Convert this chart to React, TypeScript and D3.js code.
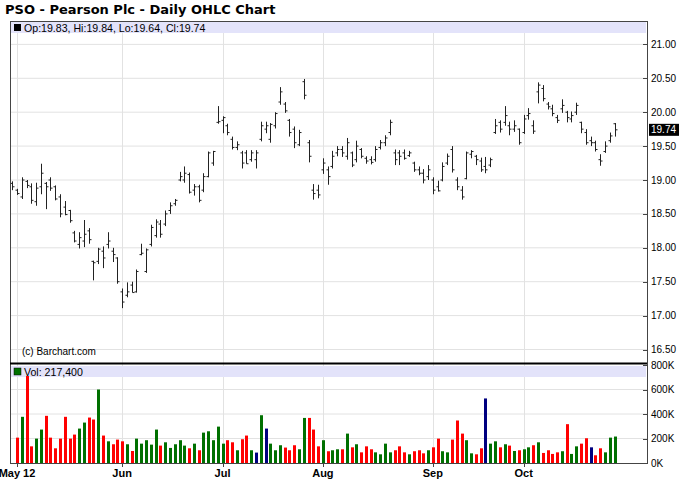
import React from 'react'
import * as d3 from 'd3'

// daily bars, Apr 30 2012 .. Oct 26 2012 (index = trading day)
const opens = [
  18.95, 18.85, 18.75, 18.98, 18.9, 18.68, 18.9, 18.95, 19.0, 18.9,
  18.75, 18.6, 18.55, 18.22, 18.05, 18.1, 18.25, 17.8, 17.8, 17.95,
  18.05, 17.95, 17.85, 17.35, 17.3, 17.45, 17.35, 17.9, 17.65, 18.05,
  18.18, 18.35, 18.35, 18.55, 18.65, 19.0, 19.0, 19.08, 18.85, 18.9,
  18.85, 19.05, 19.25, 19.85, 19.88, 19.8, 19.6, 19.48, 19.4, 19.4,
  19.3, 19.3, 19.6, 19.75, 19.6, 19.8, 20.15, 20.12, 19.88, 19.75,
  19.52, 20.45, 19.55, 18.85, 18.85, 19.15, 19.15, 19.2, 19.4, 19.45,
  19.35, 19.4, 19.3, 19.45, 19.32, 19.3, 19.3, 19.48, 19.55, 19.7,
  19.4, 19.4, 19.4, 19.36, 19.25, 19.15, 19.1, 19.05, 19.0, 18.9,
  19.0, 19.25, 19.45, 19.0, 18.85, 19.02, 19.38, 19.35, 19.28, 19.2,
  19.22, 19.7, 19.85, 19.85, 19.8, 19.75, 19.75, 19.7, 19.95, 19.8,
  20.3, 20.35, 20.12, 20.05, 19.92, 20.05, 20.0, 19.9, 20.0, 19.85,
  19.7, 19.58, 19.55, 19.3, 19.42, 19.58, 19.83,
]
const highs = [
  18.98, 18.87, 19.04, 19.0, 18.95, 18.96, 19.24, 18.97, 19.04, 18.92,
  18.79, 18.69, 18.56, 18.25, 18.23, 18.41, 18.29, 17.81, 18.0, 18.02,
  18.23, 18.0, 17.86, 17.4, 17.49, 17.5, 17.68, 18.06, 17.99, 18.34,
  18.42, 18.41, 18.55, 18.67, 18.72, 19.12, 19.2, 19.11, 18.94, 18.93,
  19.1, 19.42, 19.43, 20.09, 19.94, 19.83, 19.64, 19.57, 19.43, 19.44,
  19.44, 19.44, 19.86, 19.86, 19.84, 20.0, 20.37, 20.15, 19.9, 19.79,
  19.74, 20.49, 19.59, 18.94, 18.93, 19.32, 19.2, 19.43, 19.5, 19.5,
  19.62, 19.42, 19.58, 19.47, 19.35, 19.35, 19.5, 19.59, 19.66, 19.89,
  19.45, 19.44, 19.45, 19.43, 19.27, 19.2, 19.16, 19.22, 19.04, 18.99,
  19.26, 19.39, 19.5, 19.04, 18.91, 19.42, 19.44, 19.37, 19.33, 19.34,
  19.33, 19.9, 19.88, 20.09, 19.86, 19.88, 19.76, 19.96, 20.06, 19.88,
  20.44, 20.4, 20.15, 20.11, 19.96, 20.19, 20.02, 20.01, 20.14, 19.86,
  19.75, 19.64, 19.58, 19.38, 19.57, 19.7, 19.84,
]
const lows = [
  18.85, 18.78, 18.72, 18.88, 18.65, 18.62, 18.79, 18.57, 18.84, 18.7,
  18.45, 18.48, 18.37, 18.08, 17.99, 18.01, 18.06, 17.52, 17.76, 17.7,
  17.99, 17.79, 17.47, 17.11, 17.27, 17.34, 17.34, 17.89, 17.63, 18.02,
  18.15, 18.15, 18.32, 18.5, 18.62, 18.98, 18.96, 18.8, 18.77, 18.67,
  18.82, 19.04, 19.21, 19.83, 19.69, 19.66, 19.45, 19.44, 19.17, 19.24,
  19.27, 19.17, 19.57, 19.69, 19.55, 19.76, 20.11, 19.99, 19.64, 19.47,
  19.5, 20.19, 19.26, 18.71, 18.73, 19.09, 18.93, 19.17, 19.35, 19.34,
  19.3, 19.19, 19.26, 19.32, 19.24, 19.23, 19.27, 19.45, 19.5, 19.66,
  19.22, 19.22, 19.3, 19.34, 19.12, 19.07, 18.95, 19.0, 18.79, 18.83,
  18.98, 19.22, 19.11, 18.85, 18.71, 19.01, 19.32, 19.22, 19.12, 19.1,
  19.19, 19.68, 19.7, 19.8, 19.66, 19.71, 19.52, 19.68, 19.89, 19.68,
  20.13, 20.16, 20.04, 19.94, 19.84, 19.99, 19.85, 19.85, 19.96, 19.69,
  19.52, 19.5, 19.42, 19.21, 19.4, 19.55, 19.64,
]
const closes = [
  18.9, 18.8, 19.0, 18.92, 18.7, 18.88, 19.1, 18.9, 18.88, 18.72,
  18.5, 18.49, 18.4, 18.1, 18.15, 18.2, 18.12, 17.78, 17.98, 17.85,
  18.1, 17.9, 17.5, 17.2, 17.35, 17.34, 17.65, 17.92, 17.97, 18.3,
  18.38, 18.2, 18.5, 18.62, 18.7, 19.05, 19.1, 18.82, 18.9, 18.7,
  19.05, 19.4, 19.42, 19.86, 19.92, 19.7, 19.48, 19.52, 19.25, 19.24,
  19.4, 19.4, 19.8, 19.8, 19.82, 19.98, 20.3, 20.02, 19.7, 19.55,
  19.7, 20.25, 19.35, 18.8, 18.78, 19.25, 19.05, 19.35, 19.45, 19.4,
  19.55, 19.22, 19.5, 19.35, 19.28, 19.26, 19.45, 19.55, 19.62, 19.85,
  19.3, 19.35, 19.32, 19.4, 19.15, 19.1, 19.0, 19.15, 18.85, 18.84,
  19.2, 19.35, 19.15, 18.9, 18.75, 19.4, 19.42, 19.3, 19.15, 19.15,
  19.3, 19.8, 19.75, 19.95, 19.75, 19.8, 19.55, 19.9, 19.98, 19.72,
  20.4, 20.2, 20.08, 19.98, 19.88, 20.1, 19.92, 19.95, 20.1, 19.75,
  19.55, 19.55, 19.45, 19.28, 19.5, 19.65, 19.74,
]
// volume in thousands
const volumes = [
  0, 207, 377, 710, 136, 199, 273, 385, 207, 120,
  199, 377, 199, 232, 281, 330, 371, 355, 600, 224,
  177, 153, 191, 177, 153, 98, 199, 158, 186, 150,
  273, 142, 169, 123, 153, 186, 142, 120, 158, 104,
  248, 259, 186, 297, 158, 186, 169, 104, 194, 224,
  104, 85, 390, 281, 158, 104, 145, 126, 104, 145,
  112, 368, 368, 273, 136, 186, 96, 104, 112, 112,
  240, 128, 153, 87, 136, 112, 87, 71, 158, 87,
  104, 136, 87, 71, 96, 104, 79, 104, 128, 199,
  96, 87, 191, 347, 240, 186, 79, 71, 120, 527,
  158, 177, 128, 153, 142, 98, 104, 112, 128, 145,
  169, 82, 104, 74, 87, 96, 317, 74, 136, 158,
  202, 128, 63, 120, 87, 207, 216,
]
// u = up, d = down, n = unchanged (ten days per chunk)
const volDir = [
  'ududduuddd', 'dddduuddud', 'uddduduuuu', 'uduuuuudud', 'uuuuuddudd',
  'ununuuuddd', 'uuddduduud', 'ududdduuuu', 'dddudddudd', 'uuddduuddn',
  'uudududuud', 'udddduduud', 'dndduuu',
].join('')

const priceTicks = [16.5, 17, 17.5, 18, 18.5, 19, 19.5, 20, 20.5, 21]
const volTicks = [0, 200, 400, 600, 800]
const monthLabels = ['May 12', 'Jun', 'Jul', 'Aug', 'Sep', 'Oct']
const monthIndex = [1, 23, 44, 65, 88, 107]

const W = 688
const H = 503
const left = 10
const right = 647
const pTop = 22
const pBot = 363
const vBot = 463
const font = '"Liberation Sans", Arial, sans-serif'
const green = '#007000'
const red = '#ff0000'
const navy = '#000080'

export default function App() {
  const n = highs.length
  const x = d3.scaleLinear().domain([0, n - 1]).range([12.2, 614.5])
  const yP = d3.scaleLinear().domain([16.5, 21]).range([349.5, 44.4])
  const yV = d3.scaleLinear().domain([0, 800]).range([vBot, 365])
  const last = n - 1
  const fmt = d3.format('.2f')
  const vFmt = d3.format(',')

  const volColor = (i: number) =>
    volDir[i] === 'u' ? green : volDir[i] === 'n' ? navy : red

  return (
    <svg
      width={W}
      height={H}
      style={{ position: 'absolute', left: 0, top: 0, background: '#fff' }}
      fontFamily={font}
    >
      <text
        x={5}
        y={14}
        fontSize={13}
        fontWeight="bold"
        fontFamily='"DejaVu Sans", Verdana, sans-serif'
        fill="#000"
      >
        PSO - Pearson Plc - Daily OHLC Chart
      </text>

      {/* price panel */}
      <rect x={left + 1} y={pTop} width={right - left - 2} height={11} fill="#e3e3fa" />
      {priceTicks.map((t) => (
        <line key={t} x1={left} x2={right} y1={yP(t)} y2={yP(t)} stroke="#e2e2e2" />
      ))}
      {monthIndex.map((m) => (
        <line
          key={m}
          x1={Math.round(x(m)) + 0.5}
          x2={Math.round(x(m)) + 0.5}
          y1={pTop + 11}
          y2={vBot}
          stroke="#e2e2e2"
        />
      ))}
      <rect x={14} y={24} width={7} height={7} fill="#000" />
      <text x={24} y={31.5} fontSize={10.6} fill="#000">
        {`Op:${fmt(opens[last])}, Hi:${fmt(highs[last])}, Lo:${fmt(lows[last])}, Cl:${fmt(closes[last])}`}
      </text>
      <text x={22} y={355} fontSize={10} fill="#000">
        (c) Barchart.com
      </text>

      {highs.map((h, i) => {
        const cx = Math.round(x(i)) + 0.5
        return (
          <g key={i} stroke="#222" strokeWidth={1}>
            <line x1={cx} x2={cx} y1={yP(h)} y2={yP(lows[i])} />
            <line x1={cx - 2} x2={cx} y1={yP(opens[i])} y2={yP(opens[i])} />
            <line x1={cx} x2={cx + 2} y1={yP(closes[i])} y2={yP(closes[i])} />
          </g>
        )
      })}

      {/* volume panel */}
      <rect x={left + 1} y={366} width={right - left - 2} height={11} fill="#e3e3fa" />
      {volTicks.slice(1, 4).map((t) => (
        <line key={t} x1={left} x2={right} y1={yV(t)} y2={yV(t)} stroke="#e2e2e2" />
      ))}
      {volumes.map((v, i) =>
        v > 0 ? (
          <rect
            key={i}
            x={Math.round(x(i)) - 1}
            y={yV(v)}
            width={3}
            height={vBot - yV(v)}
            fill={volColor(i)}
          />
        ) : null,
      )}
      <rect x={14} y={368} width={7} height={7} fill={green} stroke="#000" strokeWidth={0.5} />
      <text x={24} y={375.5} fontSize={10.6} fill="#000">
        {`Vol: ${vFmt(volumes[last] * 1000 + 1400)}`}
      </text>

      {/* frame */}
      <line x1={left + 0.5} x2={left + 0.5} y1={pTop} y2={vBot} stroke="#444" />
      <line x1={left} x2={right} y1={pTop - 0.5} y2={pTop - 0.5} stroke="#444" />
      <line x1={left} x2={right} y1={pBot + 0.5} y2={pBot + 0.5} stroke="#000" strokeWidth={2} />
      <line x1={left} x2={right} y1={vBot + 0.5} y2={vBot + 0.5} stroke="#444" />
      <line x1={right + 0.5} x2={right + 0.5} y1={pTop - 1} y2={vBot + 1} stroke="#444" />

      {/* right price axis */}
      {priceTicks.map((t) => (
        <g key={t}>
          <line x1={right - 4} x2={right} y1={Math.round(yP(t)) + 0.5} y2={Math.round(yP(t)) + 0.5} stroke="#444" />
          <text x={651} y={yP(t) + 3.5} fontSize={10} fill="#000">
            {fmt(t)}
          </text>
        </g>
      ))}
      <rect x={649} y={yP(closes[last]) - 6} width={30} height={12} fill="#000" />
      <text x={651} y={yP(closes[last]) + 3.5} fontSize={10} fill="#fff">
        {fmt(closes[last])}
      </text>

      {/* right volume axis */}
      {volTicks.map((t) => (
        <g key={t}>
          <line x1={right - 4} x2={right} y1={Math.round(yV(t)) + 0.5} y2={Math.round(yV(t)) + 0.5} stroke="#444" />
          <text x={651} y={yV(t) + 3.5} fontSize={10} fill="#000">
            {`${t}K`}
          </text>
        </g>
      ))}

      {/* date axis */}
      {monthIndex.map((m, k) => (
        <g key={m}>
          <line
            x1={Math.round(x(m)) + 0.5}
            x2={Math.round(x(m)) + 0.5}
            y1={vBot}
            y2={vBot + 4}
            stroke="#444"
          />
          <text x={x(m)} y={477} fontSize={11} fontWeight="bold" textAnchor="middle" fill="#000">
            {monthLabels[k]}
          </text>
        </g>
      ))}
    </svg>
  )
}
